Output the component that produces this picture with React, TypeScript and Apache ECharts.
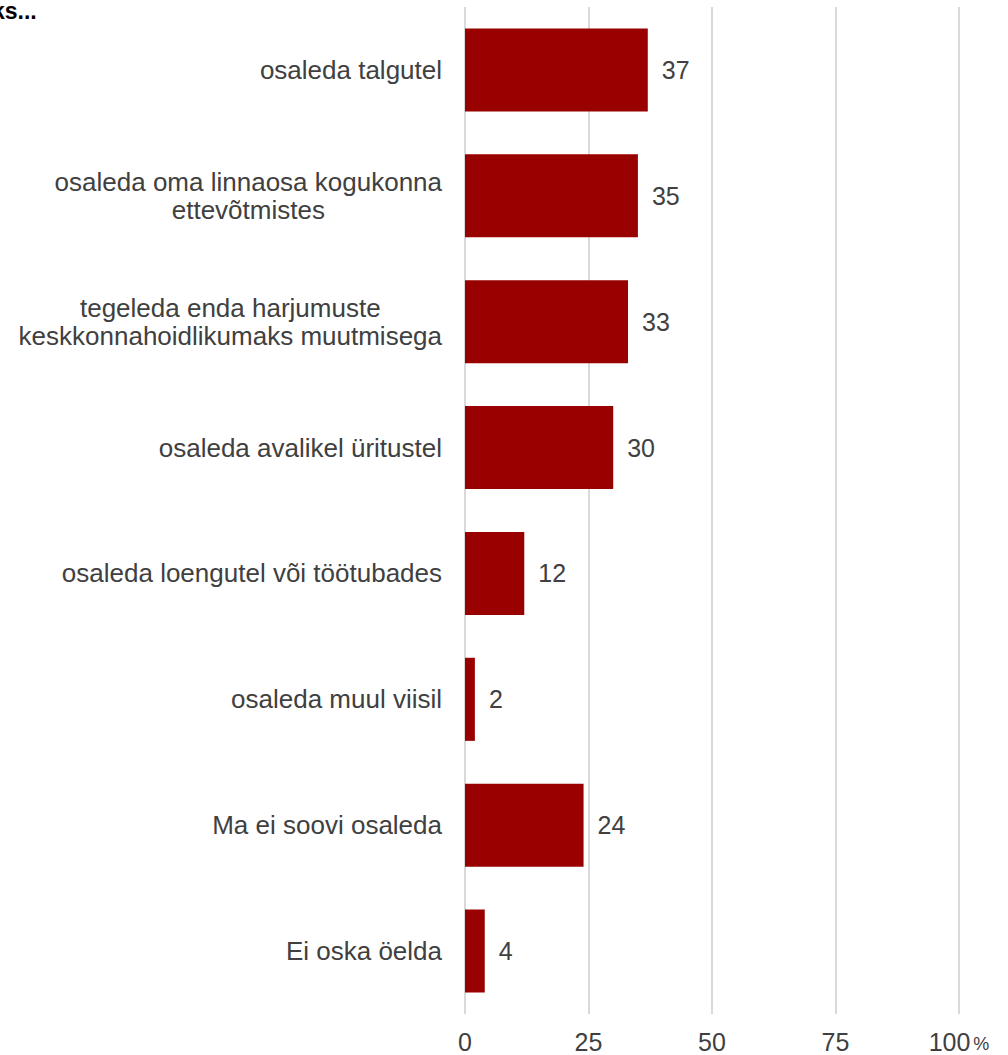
import React, { useEffect, useRef } from "react";
import * as echarts from "echarts";

const categories = [
  "osaleda talgutel",
  "osaleda oma linnaosa kogukonna\nettevõtmistes",
  "tegeleda enda harjumuste\nkeskkonnahoidlikumaks muutmisega",
  "osaleda avalikel üritustel",
  "osaleda loengutel või töötubades",
  "osaleda muul viisil",
  "Ma ei soovi osaleda",
  "Ei oska öelda",
];
const values = [37, 35, 33, 30, 12, 2, 24, 4];
const xTicks = [0, 25, 50, 75, 100];
const titleText = "ks...";

export default function App() {
  const ref = useRef<HTMLDivElement>(null);
  useEffect(() => {
    if (!ref.current) return;
    const chart = echarts.init(ref.current, null, { renderer: "svg" });
    const font = "Arial, 'Liberation Sans', sans-serif";
    chart.setOption({
      animation: false,
      textStyle: { fontFamily: font },
      graphic: [
        {
          type: "text",
          left: -8,
          top: -1,
          style: { text: titleText, font: `bold 23px ${font}`, fill: "#000" },
        },
      ],
      grid: { left: 465, right: 49, top: 7, bottom: 41, containLabel: false },
      xAxis: {
        type: "value",
        min: xTicks[0],
        max: xTicks[xTicks.length - 1],
        interval: 25,
        axisLine: { show: false },
        axisTick: { show: false },
        splitLine: { show: true, lineStyle: { color: "#d9d9d9", width: 2 } },
        axisLabel: {
          margin: 15,
          fontSize: 25,
          color: "#404040",
          fontFamily: font,
          formatter: (v: number) => (v === 100 ? "{a|100}{b|%}" : String(v)),
          rich: {
            a: { fontSize: 25, color: "#404040", fontFamily: font },
            b: { fontSize: 18, color: "#404040", fontFamily: font, padding: [5, 0, 0, 3] },
          },
        },
      },
      yAxis: {
        type: "category",
        inverse: true,
        data: categories,
        axisLine: { show: false },
        axisTick: { show: false },
        axisLabel: {
          margin: 23,
          fontSize: 26,
          color: "#404040",
          fontFamily: font,
          align: "right",
          lineHeight: 28,
          formatter: (v: string) =>
            v
              .split("\n")
              .map((l) => `{c|${l}}`)
              .join("\n"),
          rich: {
            c: { fontSize: 26, color: "#404040", fontFamily: font, align: "center", lineHeight: 28 },
          },
        },
      },
      series: [
        {
          type: "bar",
          data: values,
          barCategoryGap: "34%",
          itemStyle: { color: "#990000" },
          label: {
            show: true,
            position: "right",
            distance: 14,
            fontSize: 25,
            color: "#404040",
            fontFamily: font,
          },
        },
      ],
    });
    return () => chart.dispose();
  }, []);
  return <div ref={ref} style={{ width: 1008, height: 1055, position: "absolute", left: 0, top: 0 }} />;
}
